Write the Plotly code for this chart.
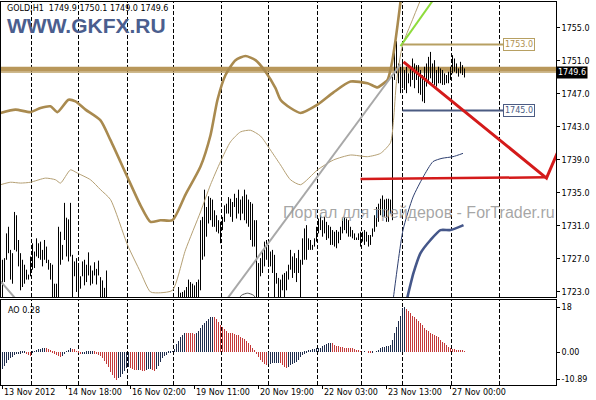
import plotly.graph_objects as go

# hourly bars, index 0 = first bar on screen
bar_high = [
    1726.9, 1727.1, 1730.1, 1730.9, 1728.1, 1727.7, 1732.7, 1732.3, 1729.3, 1727.7,
    1726.9, 1726.3, 1725.7, 1725.1, 1727.3, 1728.9, 1727.9, 1729.5, 1728.9, 1729.1,
    1728.1, 1729.3, 1728.5, 1726.9, 1726.5, 1726.3, 1724.0, 1724.0, 1730.9, 1730.3,
    1728.7, 1733.8, 1732.0, 1731.8, 1733.8, 1727.5, 1726.7, 1727.1, 1726.5, 1724.9,
    1726.7, 1726.9, 1726.3, 1727.8, 1726.2, 1725.6, 1726.6, 1725.8, 1726.8, 1724.8,
    1724.4, 1723.5, 1725.6,
    1722.2, 1721.6, 1721.0, 1720.4, 1719.8, 1719.0, 1718.6, 1718.2, 1718.9, 1719.5,
    1720.1, 1720.6, 1720.2, 1719.7, 1719.9, 1720.4, 1720.8, 1720.5, 1720.1, 1719.8,
    1720.0, 1720.6, 1721.0, 1720.7, 1720.3, 1720.5, 1721.0, 1721.4, 1721.1, 1720.8,
    1721.2, 1721.6, 1721.9, 1721.5, 1722.1,
    1723.6, 1722.9, 1723.0, 1723.2, 1723.6, 1724.5, 1724.2, 1724.0, 1723.8, 1724.2,
    1724.5,
    1731.7, 1732.1, 1735.4, 1733.3, 1734.6, 1734.4, 1734.2, 1732.9, 1732.3, 1731.7,
    1731.5, 1732.1, 1733.5, 1733.7, 1734.5, 1734.3, 1733.9, 1734.9, 1734.4, 1735.4,
    1734.2, 1734.6, 1735.4, 1734.8, 1734.2, 1733.9, 1733.7, 1731.7, 1731.7, 1726.5,
    1727.1, 1727.9, 1729.1, 1729.3, 1728.7, 1727.9, 1728.1, 1727.5, 1725.3, 1724.7,
    1724.5, 1725.1, 1725.3, 1725.5, 1726.3, 1728.1, 1727.3, 1727.7, 1727.1, 1728.1,
    1726.9, 1729.5, 1730.7, 1731.1, 1729.5, 1729.3, 1728.7, 1729.5, 1730.9, 1731.9,
    1732.3, 1731.7, 1732.1, 1731.5, 1731.1, 1730.9, 1730.5, 1730.3, 1730.5, 1730.3,
    1730.9, 1731.9, 1732.1, 1731.9, 1731.7, 1730.9, 1730.5, 1730.1, 1729.6, 1730.1,
    1730.3, 1730.3, 1730.5, 1730.3, 1729.9, 1729.9, 1730.7, 1732.3, 1733.3, 1733.7,
    1734.3, 1734.7, 1734.2, 1734.3, 1734.3, 1734.2,
    1749.1, 1753.1, 1753.4, 1750.7, 1750.3, 1750.9, 1749.9, 1750.3, 1749.5, 1750.1,
    1751.3, 1750.7, 1750.5, 1750.5, 1749.9, 1749.3, 1750.3, 1750.7, 1751.5, 1752.1,
    1750.7, 1751.1, 1749.9, 1750.3, 1750.1, 1749.9, 1749.5, 1749.3, 1749.7, 1750.3,
    1751.7, 1751.3, 1750.7, 1750.1, 1750.9, 1750.5, 1750.1,
]
bar_low = [
    1721.0, 1724.2, 1726.9, 1727.7, 1724.5, 1724.0, 1728.1, 1727.9, 1726.1, 1723.2,
    1723.6, 1724.0, 1724.5, 1724.5, 1724.9, 1725.7, 1725.9, 1727.3, 1727.1, 1726.9,
    1726.1, 1726.9, 1726.5, 1725.7, 1724.5, 1721.0, 1721.0, 1721.0, 1721.0, 1726.3,
    1726.9, 1729.3, 1727.3, 1726.7, 1727.3, 1721.0, 1724.9, 1723.0, 1721.0, 1723.4,
    1724.9, 1723.8, 1724.2, 1725.0, 1723.8, 1724.0, 1725.0, 1723.9, 1725.0, 1721.0,
    1721.0, 1721.0, 1721.0,
    1719.5, 1719.0, 1718.2, 1717.6, 1716.8, 1716.1, 1715.8, 1715.6, 1716.3, 1717.0,
    1717.6, 1718.0, 1717.5, 1717.2, 1717.4, 1717.9, 1718.3, 1718.0, 1717.6, 1717.3,
    1717.5, 1718.1, 1718.5, 1718.2, 1717.8, 1718.0, 1718.5, 1718.9, 1718.6, 1718.3,
    1718.7, 1719.1, 1719.4, 1719.0, 1719.6,
    1721.0, 1721.0, 1721.0, 1721.0, 1721.0, 1721.0, 1721.0, 1721.0, 1721.0, 1721.0,
    1721.0,
    1723.2, 1726.9, 1727.3, 1729.7, 1731.3, 1731.7, 1730.9, 1730.9, 1730.3, 1730.1,
    1728.9, 1730.5, 1731.5, 1732.5, 1732.5, 1732.1, 1731.5, 1733.3, 1731.9, 1732.5,
    1731.7, 1732.5, 1731.7, 1731.3, 1730.9, 1729.3, 1728.5, 1728.5, 1721.0, 1721.0,
    1724.9, 1725.3, 1726.1, 1726.9, 1726.3, 1726.1, 1725.3, 1721.0, 1724.0, 1721.0,
    1721.0, 1723.2, 1721.0, 1723.2, 1724.5, 1725.7, 1724.7, 1725.3, 1724.2, 1725.3,
    1721.0, 1726.3, 1726.9, 1726.9, 1728.1, 1728.1, 1728.1, 1728.5, 1729.1, 1730.1,
    1730.5, 1729.7, 1730.1, 1729.3, 1729.5, 1728.7, 1728.7, 1728.5, 1728.3, 1728.9,
    1729.3, 1730.1, 1730.5, 1730.1, 1729.7, 1729.7, 1729.5, 1729.3, 1729.3, 1729.3,
    1728.5, 1729.1, 1728.7, 1729.1, 1728.5, 1728.7, 1729.7, 1730.3, 1730.9, 1731.5,
    1732.3, 1732.1, 1732.1, 1731.5, 1731.5, 1732.5,
    1731.7, 1748.7, 1749.5, 1748.3, 1747.1, 1747.7, 1747.5, 1747.1, 1748.3, 1747.9,
    1748.7, 1747.7, 1748.7, 1747.1, 1746.9, 1746.1, 1745.9, 1747.9, 1748.3, 1748.9,
    1748.3, 1748.1, 1747.9, 1748.3, 1748.3, 1748.1, 1748.1, 1748.3, 1748.3, 1748.7,
    1749.5, 1749.7, 1749.5, 1749.1, 1749.5, 1749.3, 1749.0,
]

# Awesome Oscillator, one value per bar
ao_values = [
    -6.8, -5.6, -4.3, -3.3, -2.5, -1.9, -1.4, -1.0, -0.8, -0.7,
    -0.6, -0.5, -0.8, -1.2, -1.5, -0.5, 0.3, 0.7, 1.0, 1.2,
    1.6, 1.7, 1.5, 1.0, 0.4, -0.1, -0.7, -1.3, -1.7, -1.9,
    -1.6, -1.0, 0.1, 0.6, 1.5, 1.3, 1.0, 0.2, -0.5, -0.9,
    -0.85, -0.8, -0.75, -0.7, -0.68, -0.65, -0.7, -0.9, -1.2, -1.6,
    -2.3, -3.5, -4.8, -6.2, -7.9, -9.4, -10.6, -11.2, -10.6, -9.9,
    -8.7, -7.6, -6.4, -5.9, -6.5, -6.9, -7.2, -7.25, -7.1, -7.2,
    -7.5, -7.6, -7.3, -7.0, -6.8, -7.3, -7.6, -6.9, -5.5, -3.9,
    -2.6, -1.7, -1.2, -0.6, -0.1, 0.1, 1.2, 3.0, 4.5, 6.1,
    7.0, 7.7, 7.6, 7.55, 7.5, 7.45, 7.4, 7.8, 8.4, 9.5,
    10.7, 11.6, 12.5, 13.3, 13.9, 14.1, 13.9, 13.1, 12.0, 10.8,
    10.0, 9.2, 8.4, 7.8, 7.6, 7.5, 7.3, 7.0, 6.6, 6.1,
    5.6, 5.0, 4.3, 3.6, 2.8, 1.6, 0.5, -0.8, -2.0, -3.2,
    -4.0, -4.7, -5.1, -5.0, -4.7, -4.6, -4.5, -4.45, -4.4, -4.6,
    -5.3, -6.0, -6.5, -6.0, -5.2, -4.8, -4.4, -4.0, -3.2, -2.0,
    -1.2, -0.7, -0.2, 0.4, 0.8, 1.0, 1.2, 1.4, 1.6, 1.7,
    2.2, 2.8, 3.3, 3.6, 3.7, 3.4, 2.9, 2.5, 2.3, 2.1,
    1.8, 1.75, 1.7, 1.65, 1.6, 1.5, 1.2, 0.8, 0.4, 0.1,
    0.0, 0.05, 0.0, -0.3, -0.4, -0.3, 0.0, 0.3, 0.9, 1.5,
    1.9, 2.1, 2.2, 2.3, 2.8, 4.8, 7.5, 10.0, 12.5, 14.5,
    17.5, 18.0, 17.2, 16.3, 15.5, 14.6, 14.1, 13.3, 12.6, 11.5,
    10.8, 9.8, 9.0, 8.3, 7.5, 7.2, 6.8, 6.3, 5.8, 4.8,
    4.1, 3.5, 2.6, 2.1, 1.5, 1.3, 1.1, 0.8, 0.7, 0.5,
    0.4, 0.28,
]

day_start = [14.5, 38, 62.5, 85.5, 109.5, 133, 157.5, 179.5, 200, 224.5, 248.5]
time_label_bar = [0, 32, 64, 96, 128, 160, 192, 224]
time_labels = ["13 Nov 2012", "14 Nov 18:00", "16 Nov 02:00", "19 Nov 11:00",
               "20 Nov 19:00", "22 Nov 03:00", "23 Nov 13:00", "27 Nov 00:00"]

price_ticks = [1723, 1727, 1731, 1735, 1739, 1743, 1747, 1751, 1755]
ao_ticks = [18, 0, -10.89]
ao_tick_text = ["18", "0.00", "-10.89"]
last_price = 1749.6

# indicator / object lines as (bar, price)
upper_k = [-1, 6.5, 14, 19, 24, 27.5, 33, 36.5, 41.5, 49, 54, 62.5, 69, 74, 79, 85, 91.5,
           99, 104, 107.5, 111.5, 116.5, 121.5, 126.5, 131.5, 136.5, 139, 144, 149, 157.5,
           165.5, 174, 182.5, 187.5, 189.5, 192.5, 194.5, 196.5, 198.5, 200]
upper_p = [1744.7, 1745.1, 1744.8, 1745.3, 1745.5, 1744.8, 1746.3, 1746.1, 1745.1, 1743.8,
           1741.4, 1736.9, 1733.5, 1731.5, 1731.7, 1731.7, 1734.8, 1738.2, 1742.0, 1746.3,
           1749.3, 1751.1, 1751.6, 1751.1, 1749.7, 1747.7, 1746.3, 1745.3, 1744.7, 1745.7,
           1747.2, 1748.5, 1748.3, 1747.8, 1748.1, 1748.7, 1750.5, 1753.5, 1757.2, 1760.2]
lower_k = [-1, 4, 9, 14, 21.5, 26.5, 29, 34, 37.5, 44, 49, 54, 62.5, 69, 74, 79, 85, 91.5,
           99, 104, 109, 114, 119, 124, 129, 134, 139, 144, 149, 157.5, 165.5, 174, 182.5,
           189, 194, 195.5, 197, 200, 205, 209]
lower_p = [1736.0, 1736.3, 1736.2, 1736.3, 1736.8, 1736.6, 1736.2, 1737.8, 1737.4, 1736.6,
           1735.4, 1734.2, 1728.7, 1725.4, 1723.0, 1722.9, 1723.2, 1728.1, 1732.7, 1736.0,
           1738.8, 1741.2, 1742.4, 1742.6, 1741.9, 1740.2, 1738.4, 1736.6, 1736.0, 1737.8,
           1739.0, 1739.6, 1739.4, 1739.8, 1741.1, 1743.8, 1748.5, 1752.9, 1756.0, 1758.4]
navy_k = [194, 195.5, 200.25, 205.25, 210.25, 215.25, 219.75, 225.25, 230.25]
navy_p = [1719.6, 1722.4, 1730.5, 1734.5, 1736.9, 1738.8, 1739.2, 1739.4, 1739.8]
slate_k = [201, 202.5, 205.5, 209, 214, 219, 224, 230.5]
slate_p = [1720.8, 1722.4, 1725.3, 1727.7, 1729.3, 1730.5, 1730.5, 1731.1]
arc_k = [117, 119.5, 122.5, 125.5, 128]
arc_p = [1721.6, 1722.6, 1722.85, 1722.6, 1721.6]
trend_k = [110, 199]
trend_p = [1721.4, 1750.6]
corner_k = [-2, 10]
corner_p = [1724.6, 1721.2]
green_k = [199, 218]
green_p = [1752.8, 1759.3]
red_flat_k = [179, 272]
red_flat_p = [1736.7, 1736.9]
red_diag_k = [200.5, 272, 280]
red_diag_p = [1750.9, 1736.8, 1741.3]
level_k = [200, 250.25]
level_hi = 1753.0
level_lo = 1745.0
band_price = 1750.0

FONT = "DejaVu Sans"


def px_x(p):
    return (p - 1) / 555


def px_y(p):
    return (385 - p) / 383


fig = go.Figure()

# price bars as high-low sticks
bx, by = [], []
for i, (h, l) in enumerate(zip(bar_high, bar_low)):
    bx += [i, i, None]
    by += [l, h, None]
fig.add_trace(go.Scatter(x=bx, y=by, mode="lines", line=dict(color="black", width=1),
                         xaxis="x2", yaxis="y", hoverinfo="skip"))


def line(k, p, color, width, shape="linear"):
    fig.add_trace(go.Scatter(x=k, y=p, mode="lines", xaxis="x2", yaxis="y",
                             line=dict(color=color, width=width, shape=shape, smoothing=0.6),
                             hoverinfo="skip"))


line(lower_k, lower_p, "#B5A074", 1, "spline")
line(upper_k, upper_p, "#A98A4F", 2.6, "spline")
line(arc_k, arc_p, "#555555", 1, "spline")
line(corner_k, corner_p, "#A8A8A8", 2)
line(trend_k, trend_p, "#A8A8A8", 2)
line(green_k, green_p, "#8EDC3C", 2)
line(navy_k, navy_p, "#2E3F70", 1, "spline")
line(slate_k, slate_p, "#45578A", 2.6, "spline")
line(level_k, [level_hi, level_hi], "#B7A062", 2)
line(level_k, [level_lo, level_lo], "#4B5B82", 2)
line(red_flat_k, red_flat_p, "#D41A1A", 2.5)
line(red_diag_k, red_diag_p, "#D41A1A", 3)

# AO histogram, dark when rising, red when falling
ao_colors = []
prev = None
for v in ao_values:
    ao_colors.append("#1F2D4D" if prev is None or v > prev else "#C43A3A")
    prev = v
fig.add_trace(go.Bar(x=list(range(len(ao_values))), y=ao_values, width=0.5,
                     marker=dict(color=ao_colors, line=dict(width=0)),
                     xaxis="x", yaxis="y2", hoverinfo="skip"))

shapes = []
for d in day_start:
    for xr, yr in (("x2", "y domain"), ("x", "y2 domain")):
        shapes.append(dict(type="line", xref=xr, yref=yr, x0=d, x1=d, y0=0, y1=1,
                           line=dict(color="black", width=1, dash="4px,2px"), layer="below"))
shapes.append(dict(type="line", xref="paper", yref="y", x0=0, x1=1, y0=band_price, y1=band_price,
                   line=dict(color="#B8975A", width=5), layer="below"))
shapes.append(dict(type="line", xref="paper", yref="y", x0=0, x1=1, y0=last_price, y1=last_price,
                   line=dict(color="#CDB88C", width=1), layer="below"))

annotations = [
    dict(xref="paper", yref="paper", x=px_x(5), y=px_y(9), xanchor="left", yanchor="middle",
         text="GOLD,H1  1749.9 1750.1 1749.0 1749.6", showarrow=False,
         font=dict(family=FONT, size=8, color="black")),
    dict(xref="paper", yref="paper", x=px_x(5), y=px_y(26), xanchor="left", yanchor="middle",
         text="<b>WWW.GKFX.RU</b>", showarrow=False,
         font=dict(family="Liberation Sans", size=21, color="#4B5E8E")),
    dict(xref="paper", yref="paper", x=px_x(281), y=px_y(212), xanchor="left", yanchor="middle",
         text="Портал для трейдеров - ForTrader.ru", showarrow=False,
         font=dict(family="Liberation Sans", size=16, color="rgba(150,150,150,0.85)")),
    dict(xref="paper", yref="paper", x=px_x(6), y=px_y(310), xanchor="left", yanchor="middle",
         text="AO 0.28", showarrow=False, font=dict(family=FONT, size=8, color="black")),
    dict(xref="paper", yref="y", x=1.0, y=last_price, xanchor="left", yanchor="middle",
         text=f"{last_price:.1f}", showarrow=False, bgcolor="black", borderpad=1,
         font=dict(family=FONT, size=8, color="white")),
    dict(xref="x2", yref="y", x=level_k[1], y=level_hi, xanchor="left", yanchor="middle",
         text=f"{level_hi:.1f}", showarrow=False, bgcolor="white", bordercolor="#B7A062",
         borderwidth=1, borderpad=1, font=dict(family=FONT, size=8, color="#B09050")),
    dict(xref="x2", yref="y", x=level_k[1], y=level_lo, xanchor="left", yanchor="middle",
         text=f"{level_lo:.1f}", showarrow=False, bgcolor="white", bordercolor="#4B5B82",
         borderwidth=1, borderpad=1, font=dict(family=FONT, size=8, color="#4B5B82")),
]
for k, t in zip(time_label_bar, time_labels):
    annotations.append(dict(xref="x", yref="paper", x=k - 0.5, y=px_y(392), xanchor="left",
                            yanchor="middle", text=t, showarrow=False,
                            font=dict(family=FONT, size=8, color="black")))

axis_common = dict(showgrid=False, zeroline=False, showline=True, mirror=True,
                   linecolor="black", linewidth=1)

fig.update_layout(
    width=596, height=400,
    margin=dict(l=1, r=40, t=2, b=15),
    paper_bgcolor="white", plot_bgcolor="white",
    showlegend=False, bargap=0,
    shapes=shapes, annotations=annotations,
    xaxis=dict(domain=[0, 1], range=[-0.75, 276.75], anchor="y2", ticks="outside",
               ticklen=3, tickcolor="black", tickvals=time_label_bar, showticklabels=False,
               **axis_common),
    xaxis2=dict(domain=[0, 1], matches="x", anchor="y", showticklabels=False, **axis_common),
    yaxis=dict(domain=[0.2298, 1], range=[1722.39, 1758.15], anchor="x2", side="right",
               ticks="outside", ticklen=3, tickcolor="black", tickvals=price_ticks,
               ticktext=[f"{v:.1f}" for v in price_ticks],
               tickfont=dict(family=FONT, size=8, color="black"), **axis_common),
    yaxis2=dict(domain=[0, 0.2219], range=[-13.2, 20.8], anchor="x", side="right",
                ticks="outside", ticklen=3, tickcolor="black", tickvals=ao_ticks,
                ticktext=ao_tick_text,
                tickfont=dict(family=FONT, size=8, color="black"), **axis_common),
)

# the page body has a default 8px margin; drop it so the chart sits at the window corner
fig.write_html("out.html", config={"displayModeBar": False},
               post_script="document.body.style.margin='0';")
